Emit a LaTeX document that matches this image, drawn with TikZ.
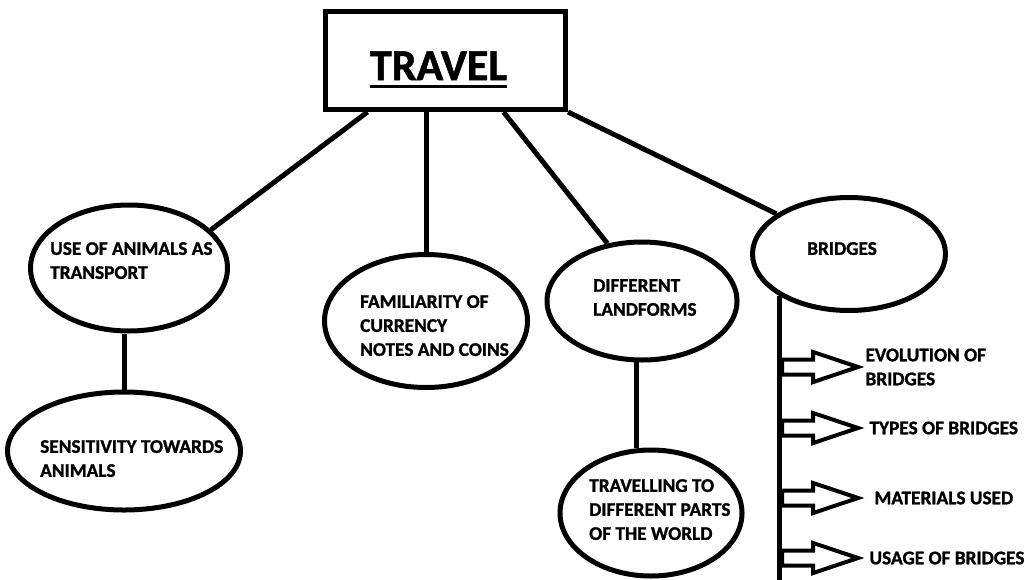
\documentclass[tikz,border=0pt]{standalone}
\usepackage{fontspec}
\setmainfont{Carlito}[BoldFeatures={FakeBold=1.2}]
\usetikzlibrary{shapes, arrows, positioning}
\tikzstyle{topic} = [draw, rectangle, line width=5pt, minimum width=240pt, minimum height=98pt, inner sep=0pt]
\tikzstyle{bubble} = [draw, ellipse, line width=5pt, inner sep=0pt]
\tikzstyle{txt} = [font=\bfseries\fontsize{19.3}{24}\selectfont, align=left, anchor=north west, inner sep=0pt]
\tikzstyle{branch} = [line width=5pt]
\tikzstyle{blockarrow} = [draw, single arrow, line width=4pt, inner sep=0pt, inner ysep=5.5pt, minimum height=76pt, minimum width=26pt, single arrow tip angle=37, single arrow head extend=7.5pt, anchor=tail]

\begin{document}
\begin{tikzpicture}[x=1pt, y=-1pt]
	\useasboundingbox (0,0) rectangle (1025,579);
	\node[topic] (travel) at (445.5,60.5) {};
	\node[font=\bfseries\fontsize{44}{50}\selectfont, inner sep=0pt, anchor=base] (title) at (438.5,80) {TRAVEL};
	\draw[line width=3pt] ([yshift=-6pt]title.base west) -- ([yshift=-6pt]title.base east);

	\node[bubble, minimum width=197pt, minimum height=126pt] (animals) at (129,268) {};
	\node[bubble, minimum width=233pt, minimum height=118pt] (sensitivity) at (124,451) {};
	\node[bubble, minimum width=203pt, minimum height=133pt] (currency) at (426,321) {};
	\node[bubble, minimum width=190pt, minimum height=118pt] (landforms) at (642,301) {};
	\node[bubble, minimum width=182pt, minimum height=126pt] (travelling) at (651,513) {};
	\node[bubble, minimum width=193pt, minimum height=113pt] (bridges) at (849,254) {};

	\node[txt] (tanimals) at (50,242) {USE OF ANIMALS AS\\TRANSPORT};
	\node[txt] (tsensitivity) at (40,440) {SENSITIVITY TOWARDS\\ANIMALS};
	\node[txt] (tcurrency) at (360,295) {FAMILIARITY OF\\CURRENCY\\NOTES AND COINS};
	\node[txt] (tlandforms) at (593,279) {DIFFERENT\\LANDFORMS};
	\node[txt] (ttravelling) at (589,479) {TRAVELLING TO\\DIFFERENT PARTS\\OF THE WORLD};
	\node[txt] (tbridges) at (807,242) {BRIDGES};

	\draw[branch] ([xshift=-78pt]travel.south) -- (animals.25);
	\draw[branch] (travel.south -| currency.north) -- (currency.north);
	\draw[branch] ([xshift=58pt]travel.south) -- (landforms.121);
	\draw[branch] (travel.south east) -- (bridges.151);
	\draw[branch] (sensitivity.north) -- (sensitivity.north |- animals.south);
	\draw[branch] (landforms.265) -- (landforms.265 |- travelling.north);
	\coordinate (trunk) at (782,582);
	\draw[branch] (bridges.211) -- (bridges.211 |- trunk);

	\node[blockarrow] (ar1) at (780,367) {};
	\node[blockarrow] (ar2) at (780,428) {};
	\node[blockarrow] (ar3) at (780,498) {};
	\node[blockarrow] (ar4) at (780,558) {};
	\node[txt, right=1pt of ar1] (evolution) {EVOLUTION OF\\BRIDGES};
	\node[txt, right=5pt of ar2] (types) {TYPES OF BRIDGES};
	\node[txt, right=10pt of ar3] (materials) {MATERIALS USED};
	\node[txt, right=5pt of ar4] (usage) {USAGE OF BRIDGES};
\end{tikzpicture}
\end{document}
